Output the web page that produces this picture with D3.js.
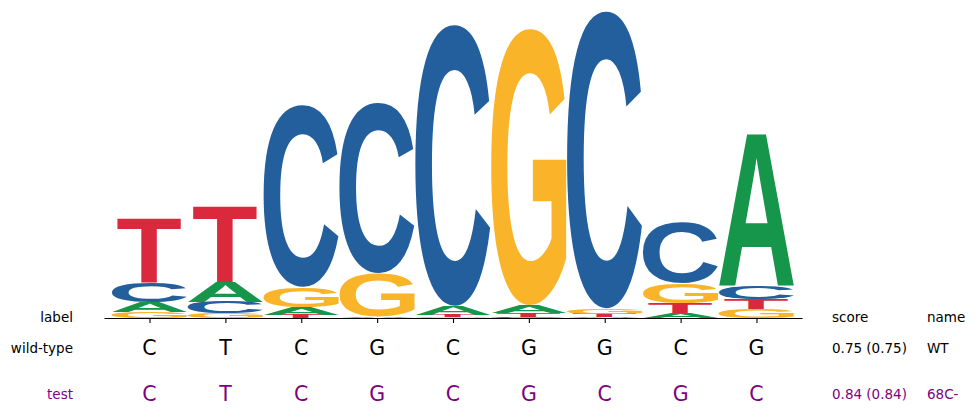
<!DOCTYPE html>
<html>
<head>
<meta charset="utf-8">
<script src="https://cdn.jsdelivr.net/npm/d3@7"></script>
<style>
  body { margin: 0; background: #fff; }
  .row text { font-family: "DejaVu Sans", sans-serif; }
</style>
</head>
<body>
<div id="chart"></div>
<script>
// logo heights (bits) per position
const positions = [0, 1, 2, 3, 4, 5, 6, 7, 8];
const bases = ["A", "C", "G", "T"];
const heightA = [0.063, 0.126, 0.05, 0.008, 0.057, 0.05, 0.004, 0.03, 0.96];
const heightC = [0.12, 0.07, 1.145, 1.07, 1.77, 0.006, 1.87, 0.38, 0.08];
const heightG = [0.038, 0.03, 0.126, 0.27, 0.006, 1.74, 0.035, 0.126, 0.057];
const heightT = [0.41, 0.48, 0.02, 0.003, 0.013, 0.025, 0.022, 0.063, 0.063];

const rowLabels = ["wild-type", "test"];
const rowSeqs = ["CTCGCGGCG", "CTCGCGCGC"];
const rowScores = ["0.75 (0.75)", "0.84 (0.84)"];
const rowNames = ["WT", "68C-"];
const rowColors = ["#000000", "#800080"];

const baseColor = { A: "#16964a", C: "#235f9c", G: "#f9b42a", T: "#da283d" };
const baseWidth = { A: 0.995, C: 0.995, G: 0.995, T: 0.85 };

const W = 976, H = 415;
const svg = d3.select("#chart").append("svg").attr("width", W).attr("height", H);

const x = d3.scaleLinear().domain([-0.6, 8.6]).range([104, 802]);
const y = d3.scaleLinear().domain([0, 2]).range([318, 0]);

// tight glyph bounds from canvas
const fontSpec = "bold 100px 'Liberation Sans'";
const ctx = document.createElement("canvas").getContext("2d");
ctx.font = fontSpec;
const glyphBox = {};
bases.forEach(b => {
  const m = ctx.measureText(b);
  glyphBox[b] = {
    left: m.actualBoundingBoxLeft, right: m.actualBoundingBoxRight,
    asc: m.actualBoundingBoxAscent, desc: m.actualBoundingBoxDescent
  };
});

const heights = { A: heightA, C: heightC, G: heightG, T: heightT };
const glyphs = [];
positions.forEach((p, i) => {
  const col = bases.map(b => ({ base: b, value: heights[b][i] }))
    .sort((a, b) => d3.ascending(a.value, b.value));
  let acc = 0;
  col.forEach(d => {
    glyphs.push({ pos: p, base: d.base, y0: acc, y1: acc + d.value });
    acc += d.value;
  });
});

const unit = x(1) - x(0);
svg.append("g").selectAll("text")
  .data(glyphs)
  .enter().append("text")
  .text(d => d.base)
  .style("font", fontSpec)
  .attr("fill", d => baseColor[d.base])
  .attr("transform", d => {
    const g = glyphBox[d.base];
    const w = unit * baseWidth[d.base];
    const x0 = x(d.pos) - w / 2;
    const top = y(d.y1);
    const h = y(d.y0) - y(d.y1);
    const sx = w / (g.left + g.right);
    const sy = h / (g.asc + g.desc);
    return `translate(${x0 + g.left * sx},${top + g.asc * sy}) scale(${sx},${sy})`;
  });

// x axis without labels
svg.append("g")
  .attr("transform", `translate(0,${y(0)})`)
  .call(d3.axisBottom(x).tickValues(positions).tickFormat("").tickSize(5).tickSizeOuter(0))
  .call(g => g.selectAll("path, line").attr("stroke", "#000").attr("stroke-width", 1.1));

// header row
const header = svg.append("g").attr("class", "row")
  .attr("font-family", "DejaVu Sans").style("font-size", "13.5px");
header.append("text").attr("x", 73).attr("y", 322).attr("text-anchor", "end").text("label");
header.append("text").attr("x", 832).attr("y", 322).text("score");
header.append("text").attr("x", 927).attr("y", 322).text("name");

// sequence rows
const rowY = [348, 394];
rowLabels.forEach((lab, r) => {
  const g = svg.append("g").attr("class", "row")
    .attr("font-family", "DejaVu Sans").attr("fill", rowColors[r]);
  g.append("text").attr("x", 73).attr("y", rowY[r]).attr("dy", "0.35em")
    .attr("text-anchor", "end").style("font-size", "13.5px").text(lab);
  g.selectAll(".seq").data(rowSeqs[r].split(""))
    .enter().append("text")
    .attr("x", (d, i) => x(positions[i]))
    .attr("y", rowY[r]).attr("dy", "0.36em")
    .attr("text-anchor", "middle").style("font-size", "20.5px")
    .text(d => d);
  g.append("text").attr("x", 832).attr("y", rowY[r]).attr("dy", "0.35em")
    .style("font-size", "13.5px").text(rowScores[r]);
  g.append("text").attr("x", 927).attr("y", rowY[r]).attr("dy", "0.35em")
    .style("font-size", "13.5px").text(rowNames[r]);
});
</script>
</body>
</html>
